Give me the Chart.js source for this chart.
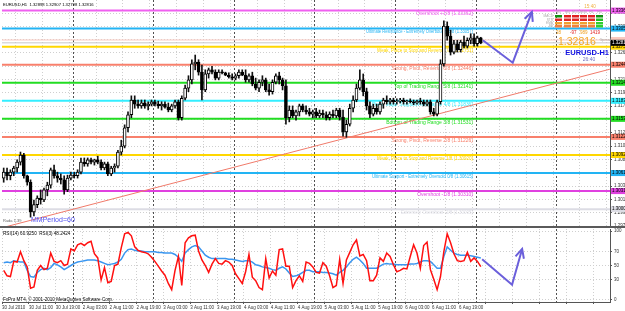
<!DOCTYPE html>
<html>
<head>
<meta charset="utf-8">
<title>EURUSD,H1</title>
<script src="https://cdn.jsdelivr.net/npm/chart.js@4.4.1/dist/chart.umd.min.js"></script>
<style>
body { margin:0; background:#fff; }
#wrap { position:relative; width:625px; height:311px; overflow:hidden; background:#fff; }
#mainChart { position:absolute; left:0; top:0; }
#rsiChart { position:absolute; left:0; top:228px; }
</style>
</head>
<body>
<div id="wrap">
<canvas id="mainChart" width="625" height="228"></canvas>
<canvas id="rsiChart" width="625" height="83"></canvas>
</div>
<script>
// hourly bars, 30 Jul - 6 Aug 2010
var timeLabels = ['30 Jul 2010','30 Jul 11:00','30 Jul 19:00','2 Aug 03:00','2 Aug 11:00','2 Aug 19:00',
  '3 Aug 03:00','3 Aug 11:00','3 Aug 19:00','4 Aug 03:00','4 Aug 11:00','4 Aug 19:00',
  '5 Aug 03:00','5 Aug 11:00','5 Aug 19:00','6 Aug 03:00','6 Aug 11:00','6 Aug 19:00'];

var opens = [1.3053,1.3063,1.3057,1.3063,1.3070,1.3080,1.3092,1.3057,1.3046,1.2996,
  1.3008,1.3019,1.3016,1.3033,1.3041,1.3067,1.3057,1.3053,1.3050,1.3033,
  1.3053,1.3058,1.3057,1.3063,1.3080,1.3077,1.3084,1.3080,1.3084,1.3080,
  1.3070,1.3077,1.3060,1.3070,1.3073,1.3097,1.3107,1.3138,1.3160,1.3185,
  1.3178,1.3175,1.3180,1.3175,1.3178,1.3182,1.3178,1.3175,1.3178,1.3173,
  1.3168,1.3175,1.3182,1.3155,1.3188,1.3205,1.3219,1.3246,1.3249,1.3232,
  1.3202,1.3229,1.3236,1.3232,1.3222,1.3232,1.3231,1.3227,1.3224,1.3222,
  1.3226,1.3232,1.3227,1.3219,1.3226,1.3212,1.3205,1.3215,1.3219,1.3202,
  1.3199,1.3215,1.3226,1.3219,1.3209,1.3155,1.3168,1.3158,1.3165,1.3175,
  1.3168,1.3165,1.3161,1.3165,1.3158,1.3163,1.3160,1.3155,1.3161,1.3158,
  1.3168,1.3156,1.3131,1.3144,1.3171,1.3185,1.3205,1.3219,1.3199,1.3175,
  1.3161,1.3171,1.3165,1.3178,1.3185,1.3182,1.3185,1.3182,1.3183,1.3185,
  1.3182,1.3183,1.3182,1.3180,1.3183,1.3182,1.3178,1.3182,1.3165,1.3161,
  1.3182,1.3246,1.3310,1.3293,1.3266,1.3280,1.3270,1.3283,1.3276,1.3286,
  1.3290,1.3280,1.3290];
var highs = [1.3070,1.3070,1.3067,1.3073,1.3084,1.3097,1.3095,1.3058,1.3050,1.3016,
  1.3023,1.3033,1.3036,1.3046,1.3070,1.3075,1.3063,1.3060,1.3057,1.3058,
  1.3063,1.3063,1.3067,1.3087,1.3087,1.3087,1.3087,1.3085,1.3090,1.3084,
  1.3080,1.3080,1.3073,1.3077,1.3100,1.3117,1.3143,1.3165,1.3192,1.3192,
  1.3185,1.3185,1.3185,1.3182,1.3185,1.3185,1.3183,1.3182,1.3182,1.3180,
  1.3178,1.3185,1.3185,1.3192,1.3210,1.3226,1.3253,1.3261,1.3253,1.3244,
  1.3236,1.3239,1.3242,1.3236,1.3236,1.3236,1.3232,1.3231,1.3229,1.3229,
  1.3236,1.3236,1.3236,1.3229,1.3232,1.3222,1.3219,1.3226,1.3222,1.3212,
  1.3219,1.3229,1.3232,1.3222,1.3219,1.3175,1.3175,1.3168,1.3178,1.3178,
  1.3175,1.3171,1.3168,1.3171,1.3168,1.3168,1.3165,1.3165,1.3168,1.3171,
  1.3171,1.3168,1.3151,1.3178,1.3192,1.3212,1.3236,1.3229,1.3205,1.3182,
  1.3178,1.3178,1.3182,1.3188,1.3192,1.3188,1.3188,1.3187,1.3188,1.3188,
  1.3185,1.3187,1.3185,1.3185,1.3188,1.3185,1.3185,1.3185,1.3171,1.3185,
  1.3253,1.3319,1.3317,1.3303,1.3286,1.3286,1.3286,1.3293,1.3290,1.3297,
  1.3297,1.3293,1.3291];
var lows = [1.3046,1.3050,1.3050,1.3057,1.3063,1.3075,1.3053,1.3041,1.2987,1.2989,
  1.3003,1.3009,1.3013,1.3023,1.3036,1.3053,1.3046,1.3043,1.3026,1.3030,
  1.3050,1.3053,1.3053,1.3060,1.3073,1.3073,1.3077,1.3075,1.3077,1.3067,
  1.3067,1.3057,1.3057,1.3063,1.3070,1.3092,1.3104,1.3131,1.3155,1.3171,
  1.3171,1.3171,1.3171,1.3168,1.3175,1.3175,1.3171,1.3168,1.3171,1.3165,
  1.3165,1.3171,1.3151,1.3151,1.3185,1.3199,1.3212,1.3236,1.3227,1.3185,
  1.3199,1.3222,1.3229,1.3219,1.3219,1.3229,1.3226,1.3222,1.3219,1.3219,
  1.3222,1.3226,1.3215,1.3215,1.3209,1.3202,1.3199,1.3209,1.3199,1.3193,
  1.3195,1.3212,1.3212,1.3202,1.3144,1.3148,1.3155,1.3151,1.3158,1.3165,
  1.3161,1.3158,1.3155,1.3155,1.3155,1.3155,1.3151,1.3151,1.3155,1.3155,
  1.3151,1.3124,1.3122,1.3141,1.3165,1.3182,1.3202,1.3192,1.3168,1.3155,
  1.3158,1.3161,1.3161,1.3171,1.3178,1.3178,1.3178,1.3178,1.3180,1.3178,
  1.3178,1.3180,1.3177,1.3178,1.3178,1.3175,1.3175,1.3161,1.3158,1.3158,
  1.3178,1.3242,1.3286,1.3261,1.3263,1.3266,1.3266,1.3273,1.3273,1.3280,
  1.3276,1.3276,1.3280];
var closes = [1.3063,1.3057,1.3063,1.3070,1.3080,1.3092,1.3057,1.3046,1.2996,1.3008,
  1.3019,1.3016,1.3033,1.3041,1.3067,1.3057,1.3053,1.3050,1.3033,1.3053,
  1.3058,1.3057,1.3063,1.3080,1.3077,1.3084,1.3080,1.3084,1.3080,1.3070,
  1.3077,1.3060,1.3070,1.3073,1.3097,1.3107,1.3138,1.3160,1.3185,1.3178,
  1.3175,1.3180,1.3175,1.3178,1.3182,1.3178,1.3175,1.3178,1.3173,1.3168,
  1.3175,1.3182,1.3155,1.3188,1.3205,1.3219,1.3246,1.3249,1.3232,1.3202,
  1.3229,1.3236,1.3232,1.3222,1.3232,1.3231,1.3227,1.3224,1.3222,1.3226,
  1.3232,1.3227,1.3219,1.3226,1.3212,1.3205,1.3215,1.3219,1.3202,1.3199,
  1.3215,1.3226,1.3219,1.3209,1.3155,1.3168,1.3158,1.3165,1.3175,1.3168,
  1.3165,1.3161,1.3165,1.3158,1.3163,1.3160,1.3155,1.3161,1.3158,1.3168,
  1.3156,1.3131,1.3144,1.3171,1.3185,1.3205,1.3219,1.3199,1.3175,1.3161,
  1.3171,1.3165,1.3178,1.3185,1.3182,1.3185,1.3182,1.3183,1.3185,1.3182,
  1.3183,1.3182,1.3180,1.3183,1.3182,1.3178,1.3182,1.3165,1.3161,1.3182,
  1.3246,1.3310,1.3293,1.3266,1.3280,1.3270,1.3283,1.3276,1.3286,1.3290,
  1.3280,1.3290,1.32816];

// RSI(3) red, RSI(14) blue
var rsiFast = [43,35,34,56,55,70,57,48,17,19, 43,50,44,46,68,56,54,57,50,52,
  74,71,80,82,79,83,85,67,61,29, 47,25,27,50,52,76,96,98,93,77,
  72,70,69,67,62,56,49,42,36,24, 15,43,63,21,83,90,93,94,71,58,
  50,40,52,60,53,52,57,55,50,38, 31,24,41,66,33,28,18,15,60,32,
  42,36,73,74,49,49,18,28,35,27, 55,53,48,40,39,54,49,35,18,21,
  59,24,58,69,80,87,64,66,57,28, 28,36,61,56,68,63,51,41,43,46,
  45,63,80,68,46,79,84,44,30,15, 34,70,96,83,67,57,56,57,69,56,
  61,56,48.24];
var rsiSlow = [54,55,54,57,56,55,55,43,34,33, 40,44,46,44,47,53,51,48,44,47,
  50,53,55,56,57,58,58,58,57,55, 53,51,52,53,55,59,68,73,74,72,
  71,71,70,70,70,70,69,69,68,68, 68,66,62,56,68,73,77,79,77,71,
  65,62,60,60,60,60,60,59,59,58, 57,56,57,57,55,51,50,48,47,46,
  44,43,46,48,45,39,34,35,37,40, 43,43,41,41,41,40,40,39,38,36,
  40,43,48,54,59,62,58,53,46,46, 46,46,49,52,53,52,52,51,51,51,
  51,52,52,53,55,57,57,56,51,46, 46,63,77,72,68,66,65,65,65,64,
  63,62,60.93];

// Murrey math levels
var levelNames = ['Overshoot +1/8','Ultimate Resistance - Extremely Overbought 8/8','Weak, Place to Stop and Reverse 7/8',
  'Strong, Pivot, Reverse 6/8','Top of Trading Range 5/8','Pivot, Major Support/Resistance 4/8',
  'Bottom of Trading Range 3/8','Strong, Pivot, Reverse 2/8','Weak, Place to Stop and Reverse 1/8',
  'Ultimate Support - Extremely Oversold 0/8','Overshoot -1/8','Extremely Overshoot -2/8'];
var levelValues = [1.33362,1.33057,1.32751,1.32446,1.32141,1.31836,1.31531,1.31226,1.30920,1.30615,1.30310,1.30005];
var bidPrice = 1.32816;
var prevPrice = 1.32864;

var priceTicks = [1.29720,1.29945,1.30170,1.30395,1.30620,1.30845,1.31070,1.31295,1.31520,
  1.31745,1.31970,1.32195,1.32420,1.32645,1.32870,1.33095,1.33320];
var rsiTicks = [0,30,50,70,100];
var daySeps = [20.5,44.5,68.5,92.5,116.5,140.5,164.5];

var trendBars = [-0.5,180.4];
var trendPrices = [1.2969,1.3237];
var arrowBars = [142.6,151.5,157.2];
var arrowPrices = [1.3286,1.3248,1.3334];
var rsiArrowBars = [142.4,151.3,154.3];
var rsiArrowValues = [59,22,74];

// styles
var levelColors = ['#f060f0','#22b4f4','#ffd700','#f8806c','#22dd22','#33eeff','#22dd22','#f8806c','#ffd700','#22b4f4','#e040e0','#dcdce4'];
var labelWidths = [75,107,96,85,85,101,88,85,96,101,74,72];
var FONT = '"Liberation Sans", Arial, sans-serif';
var XMIN = -0.5, XMAX = 180.45;

var idx = opens.map(function (o, i) { return i; });
var gridTicks = [];
for (var k = 0; k <= 22; k++) gridTicks.push(k * 8 - 0.5);

function txt(ctx, s, x, y, size, color, align, bold, maxW) {
  ctx.font = (bold ? 'bold ' : '') + size + 'px ' + FONT;
  ctx.fillStyle = color;
  ctx.textAlign = align || 'left';
  ctx.textBaseline = 'middle';
  if (maxW) ctx.fillText(s, x, y, maxW); else ctx.fillText(s, x, y);
}

function arrowHead(ctx, chart, dsIndex, color) {
  var pts = chart.getDatasetMeta(dsIndex).data;
  var a = pts[pts.length - 2], b = pts[pts.length - 1];
  var ang = Math.atan2(b.y - a.y, b.x - a.x);
  ctx.save();
  ctx.strokeStyle = color; ctx.lineWidth = 2;
  ctx.beginPath();
  ctx.moveTo(b.x - 10 * Math.cos(ang - 0.45), b.y - 10 * Math.sin(ang - 0.45));
  ctx.lineTo(b.x, b.y);
  ctx.lineTo(b.x - 10 * Math.cos(ang + 0.45), b.y - 10 * Math.sin(ang + 0.45));
  ctx.stroke();
  ctx.restore();
}

function separators(chart) {
  var ctx = chart.ctx, xs = chart.scales.x, a = chart.chartArea;
  ctx.save();
  ctx.strokeStyle = '#505050'; ctx.lineWidth = 1; ctx.setLineDash([2, 2]);
  daySeps.forEach(function (v) {
    var x = Math.round(xs.getPixelForValue(v)) + 0.5;
    ctx.beginPath(); ctx.moveTo(x, a.top); ctx.lineTo(x, a.bottom); ctx.stroke();
  });
  ctx.restore();
}

var mainDecor = {
  id: 'mainDecor',
  beforeDatasetsDraw: function (chart) {
    separators(chart);
    var ctx = chart.ctx, ys = chart.scales.y;
    levelNames.forEach(function (n, i) {
      var y = ys.getPixelForValue(levelValues[i]) + 3.5;
      txt(ctx, n + ' (' + levelValues[i].toFixed(5) + ')', 473, y, 5, levelColors[i], 'right', false, labelWidths[i]);
    });
  },
  afterDraw: function (chart) {
    var ctx = chart.ctx, ys = chart.scales.y;
    arrowHead(ctx, chart, chart.data.datasets.length - 1, '#6b5fdb');
    // header
    txt(ctx, 'EURUSD,H1  1.32898 1.32907 1.32798 1.32816', 3, 5, 4.2, '#000');
    txt(ctx, 'Ruda 1.39', 3, 221, 4, '#666');
    txt(ctx, 'MMPeriod=60', 31, 220, 7, '#5050f0');
    // right axis price boxes
    levelValues.forEach(function (v, i) {
      var y = ys.getPixelForValue(v);
      ctx.fillStyle = levelColors[i];
      ctx.fillRect(611, y - 3, 14, 6);
      txt(ctx, v.toFixed(5), 612, y, 4.5, '#000');
    });
    var py = ys.getPixelForValue(prevPrice);
    ctx.fillStyle = '#f9c9c0'; ctx.fillRect(611, py - 3, 14, 5);
    var by = ys.getPixelForValue(bidPrice);
    ctx.fillStyle = '#000'; ctx.fillRect(611, by - 3, 14, 6);
    txt(ctx, bidPrice.toFixed(5), 612, by, 4.5, '#fff');
    // signal matrix
    var cols = [555, 564, 572, 580, 588, 596];
    var rows = [15, 18.5, 22, 25];
    var mtx = [
      ['#109010', '#e02020', '#e02020', '#e02020', '#e02020', '#109010'],
      ['#e02828', '#e02828', '#e02828', '#e02828', '#e02828', '#20c020'],
      ['#f0a030', '#f0a030', '#f0a030', '#f0a030', '#f0a030', '#30d030'],
      ['#f08040', '#f08040', '#f08040', '#f08040', '#f08040', '#30d030']
    ];
    rows.forEach(function (ry, r) {
      cols.forEach(function (cx, c) {
        ctx.fillStyle = mtx[r][c]; ctx.fillRect(cx, ry, 7, 2.5);
      });
    });
    ['M1', 'M5', 'M15', 'M30', 'H1', 'H4'].forEach(function (s, c) {
      txt(ctx, s, cols[c] + 3.5, 12.5, 3.5, '#aaa', 'center');
    });
    ['MACD', 'STR', 'EMA', 'BB'].forEach(function (s, r) {
      txt(ctx, s, 553, rows[r] + 1.2, 3.2, '#aaa', 'right');
    });
    txt(ctx, '15:40', 590, 7, 4.5, '#f0b040', 'center');
    txt(ctx, '38', 556, 33, 4.5, '#f0a020');
    txt(ctx, '-97', 570, 33, 4.5, '#e02020');
    txt(ctx, '989', 580, 33, 4.5, '#f0a020');
    txt(ctx, '1419', 590, 33, 4.5, '#e02020');
    txt(ctx, '1.32816', 558, 42, 10.5, '#f5a623');
    txt(ctx, 'Spread', 600, 40, 3.5, '#aaa');
    txt(ctx, 'EURUSD-H1', 609, 52.5, 7.5, '#1010e0', 'right', true);
    txt(ctx, '26:40', 589, 60, 5, '#7070c0', 'center');
    // panel separator
    ctx.fillStyle = '#5a5a5a';
    ctx.fillRect(0, 226, 625, 2);
  }
};

var rsiDecor = {
  id: 'rsiDecor',
  beforeDatasetsDraw: function (chart) { separators(chart); },
  afterDraw: function (chart) {
    var ctx = chart.ctx;
    arrowHead(ctx, chart, chart.data.datasets.length - 1, '#6b5fdb');
    txt(ctx, 'RSI(14) 60.9250  RSI(3) 48.2424', 3, 6, 4.6, '#000');
    txt(ctx, 'FxPro MT4, \u00a9 2001-2010 MetaQuotes Software Corp.', 3, 72, 4.6, '#000');
  }
};

function fixY(w) {
  return function (s) { s.width = w; s.paddingTop = 0; s.paddingBottom = 0; };
}

// main price chart
var mainSets = [
  { type: 'bar', data: idx.map(function (i) { return { x: i, y: [opens[i], closes[i]] }; }),
    backgroundColor: idx.map(function (i) { return closes[i] >= opens[i] ? '#ffffff' : '#000000'; }),
    borderColor: '#000', borderWidth: 1, borderSkipped: false, barThickness: 3, grouped: false, minBarLength: 1, order: 1 },
  { type: 'bar', data: idx.map(function (i) { return { x: i, y: [lows[i], highs[i]] }; }),
    backgroundColor: '#111', barThickness: 1, grouped: false, order: 2 }
];
levelValues.forEach(function (v, i) {
  mainSets.push({ type: 'line', data: [{ x: XMIN, y: v }, { x: XMAX, y: v }], borderColor: levelColors[i],
    borderWidth: 2, pointRadius: 0, order: 5 });
});
mainSets.push({ type: 'line', data: [{ x: XMIN, y: prevPrice }, { x: XMAX, y: prevPrice }], borderColor: '#f9c9c0', borderWidth: 1, pointRadius: 0, order: 5 });
mainSets.push({ type: 'line', data: [{ x: XMIN, y: bidPrice }, { x: XMAX, y: bidPrice }], borderColor: '#c8c8c8', borderWidth: 1, pointRadius: 0, order: 5 });
mainSets.push({ type: 'line', data: trendBars.map(function (b, i) { return { x: b, y: trendPrices[i] }; }),
  borderColor: '#f07a6a', borderWidth: 1, pointRadius: 0, order: 4 });
mainSets.push({ type: 'line', data: arrowBars.map(function (b, i) { return { x: b, y: arrowPrices[i] }; }),
  borderColor: '#6b5fdb', borderWidth: 2, pointRadius: 0, order: -1, clip: false });

new Chart(document.getElementById('mainChart'), {
  type: 'line',
  data: { datasets: mainSets },
  plugins: [mainDecor],
  options: {
    responsive: false, animation: false, events: [],
    layout: { padding: { left: 2, right: 0, top: 0, bottom: 2 } },
    plugins: { legend: { display: false }, tooltip: { enabled: false } },
    scales: {
      x: { type: 'linear', min: XMIN, max: XMAX, offset: false,
        afterBuildTicks: function (s) { s.ticks = gridTicks.map(function (v) { return { value: v }; }); },
        ticks: { display: false },
        grid: { color: '#cfcfcf', drawTicks: false },
        border: { display: false, dash: [1, 2] },
        afterFit: function (s) { s.height = 0; s.paddingLeft = 0; s.paddingRight = 0; } },
      y: { position: 'right', min: 1.2972, max: 1.3354,
        afterBuildTicks: function (s) { s.ticks = priceTicks.map(function (v) { return { value: v }; }); },
        ticks: { font: { size: 4.5, family: FONT }, color: '#333', padding: 2,
          callback: function (v) { return v.toFixed(5); } },
        grid: { color: '#cfcfcf', tickLength: 2, tickColor: '#555' },
        border: { display: true, color: '#555', dash: [1, 2] },
        afterFit: fixY(15) }
    }
  }
});

// RSI panel
new Chart(document.getElementById('rsiChart'), {
  type: 'line',
  data: { datasets: [
    { data: idx.map(function (i) { return { x: i, y: rsiFast[i] }; }), borderColor: '#ff1010', borderWidth: 1.5, pointRadius: 0, order: 0 },
    { data: idx.map(function (i) { return { x: i, y: rsiSlow[i] }; }), borderColor: '#3a96f0', borderWidth: 1.5, pointRadius: 0, order: 1 },
    { data: rsiArrowBars.map(function (b, i) { return { x: b, y: rsiArrowValues[i] }; }), borderColor: '#6b5fdb', borderWidth: 2, pointRadius: 0, order: -1 }
  ] },
  plugins: [rsiDecor],
  options: {
    responsive: false, animation: false, events: [],
    layout: { padding: { left: 2, right: 0, top: 1, bottom: 0 } },
    plugins: { legend: { display: false }, tooltip: { enabled: false } },
    scales: {
      x: { type: 'linear', min: XMIN, max: XMAX, offset: false,
        afterBuildTicks: function (s) { s.ticks = gridTicks.map(function (v) { return { value: v }; }); },
        ticks: { font: { size: 4.5, family: FONT }, color: '#333', align: 'start', padding: 1, maxRotation: 0, autoSkip: false,
          callback: function (v, i) { return timeLabels[i] || ''; } },
        grid: { color: '#cfcfcf', tickLength: 2, tickColor: '#555' },
        border: { display: true, color: '#555', dash: [1, 2] },
        afterFit: function (s) { s.height = 9; s.paddingLeft = 0; s.paddingRight = 0; } },
      y: { position: 'right', min: -2.9, max: 102.9,
        afterBuildTicks: function (s) { s.ticks = rsiTicks.map(function (v) { return { value: v }; }); },
        ticks: { font: { size: 4.5, family: FONT }, color: '#333', padding: 2 },
        grid: { color: '#cfcfcf', tickLength: 2, tickColor: '#555' },
        border: { display: true, color: '#555', dash: [1, 2] },
        afterFit: fixY(15) }
    }
  }
});
</script>
</body>
</html>
